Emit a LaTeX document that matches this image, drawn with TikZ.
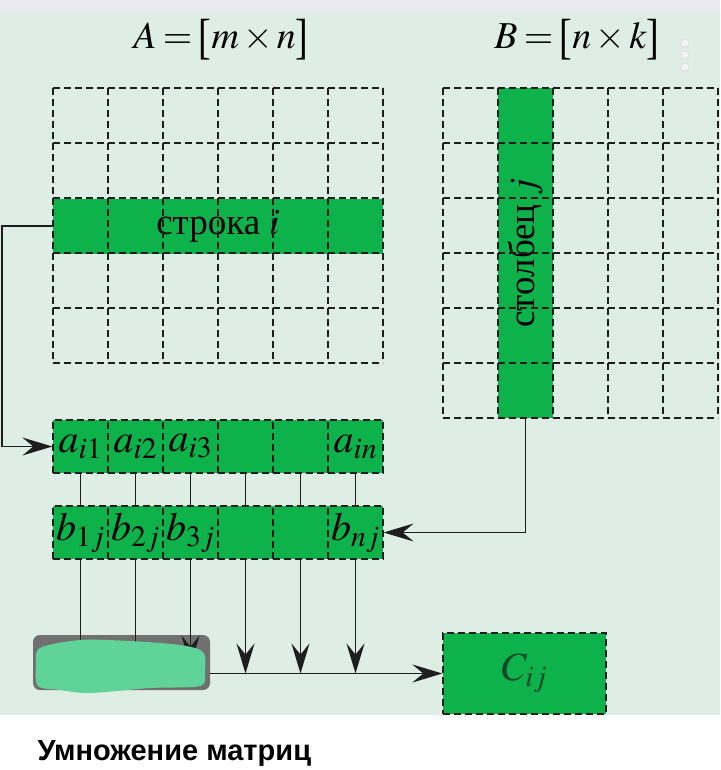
\documentclass[tikz,border=0pt]{standalone}
\usepackage{mathptmx}
\usepackage{fontspec}
\setmainfont{Liberation Serif}
\newfontfamily\captionfont{Liberation Sans}
\usetikzlibrary{arrows.meta, positioning, calc}
\usepackage{xcolor}
\definecolor{cellgreen}{RGB}{14,178,74}
\definecolor{bggreen}{RGB}{222,238,228}
\definecolor{bgtop}{RGB}{232,234,240}
\definecolor{sumgray}{RGB}{112,112,112}
\definecolor{blobgreen}{RGB}{96,212,152}
\definecolor{cijtext}{RGB}{20,72,42}
\definecolor{linegray}{RGB}{30,30,30}
% grands crochets pour les titres
\newcommand{\tallbrack}[1]{\raisebox{-5pt}{\scalebox{1}[1.3]{#1}}}

\begin{document}
\begin{tikzpicture}[x=1pt, y=-1pt,
    griddash/.style={draw=linegray, line width=1.3pt, dash pattern=on 7pt off 4pt},
    cellbox/.style={fill=cellgreen, draw=linegray, line width=1.3pt, dash pattern=on 7pt off 4pt,
        minimum width=55pt, minimum height=53pt, inner sep=0pt, font=\fontsize{40}{42}\selectfont},
    wire/.style={draw=linegray, line width=1.4pt},
    arr/.style={wire, -{Stealth[length=30pt, width=18pt, inset=11pt]}}]
    \useasboundingbox (0,0) rectangle (720,770);

    % --- Fond ---
    \fill[bgtop] (0,0) rectangle (720,12);
    \fill[bggreen] (0,12) rectangle (720,715);
    \fill[white] (0,715) rectangle (720,770);
    \foreach \y in {43,55,67}
        \draw[gray!25, fill=gray!8, line width=0.8pt] (685,\y) circle (4pt);

    % --- Titres ---
    \node[font=\fontsize{38}{40}\selectfont] (titleA) at (221,40)
        {$A\mkern3mu{=}\mkern3mu\mathopen{\tallbrack{[}}m\mkern2mu{\times}\mkern2mu n\mathclose{\tallbrack{]}}$};
    \node[font=\fontsize{38}{40}\selectfont] (titleB) at (577,40)
        {$B\mkern3mu{=}\mkern3mu\mathopen{\tallbrack{[}}n\mkern2mu{\times}\mkern2mu k\mathclose{\tallbrack{]}}$};

    % --- Matrice A (ligne i) ---
    \node[fill=cellgreen, minimum width=330pt, minimum height=55pt, inner sep=0pt,
        font=\fontsize{37}{39}\selectfont] (rowi) at (218,226) {строка $i$};
    \foreach \x in {53,108,...,383}
        \draw[griddash] (\x,88) -- (\x,363);
    \foreach \y in {88,143,...,363}
        \draw[griddash] (53,\y) -- (383,\y);

    % --- Matrice B (colonne j) ---
    \node[fill=cellgreen, minimum width=55pt, minimum height=330pt, inner sep=0pt,
        font=\fontsize{37}{39}\selectfont] (colj) at (525.5,253) {\rotatebox{90}{столбец $j$}};
    \foreach \x in {443,498,...,718}
        \draw[griddash] (\x,88) -- (\x,418);
    \foreach \y in {88,143,...,418}
        \draw[griddash] (443,\y) -- (718,\y);

    % --- Elements a et b ---
    \foreach \i/\t in {1/{a_{i1}},2/{a_{i2}},3/{a_{i3}},4/{},5/{},6/{a_{in}}}
        \node[cellbox] (a\i) at ({25.5+55*\i},446.5) {\ensuremath{\t}};
    \foreach \i/\t in {1/{b_{1j}},2/{b_{2j}},3/{b_{3j}},4/{},5/{},6/{b_{nj}}}
        \node[cellbox] (b\i) at ({25.5+55*\i},532.5) {\ensuremath{\t}};

    \draw[arr] (rowi.west) -- ++(-51,0) |- (a1.west);
    \draw[arr] (colj.south) |- (b6.east);
    \foreach \i in {1,...,6}
        \draw[wire] (a\i.south) -- (b\i.north);

    % --- Somme et resultat ---
    \node[fill=sumgray, rounded corners=7pt, minimum width=177pt, minimum height=55pt] (sum) at (121.5,662.5) {};
    \node[cellbox, minimum width=163pt, minimum height=81pt, text=cijtext,
        font=\fontsize{40}{42}\selectfont] (cij) at (524.5,673.5) {$C_{ij}$};

    \foreach \i in {1,2}
        \draw[wire] (b\i.south) -- ++(0,100);
    \draw[arr] (b3.south) -- ++(0,106);
    \foreach \i in {4,5,6}
        \draw[arr] (b\i.south) -- (b\i.south |- cij.west);
    \draw[arr] (sum.east |- cij.west) -- (cij.west);

    % tache qui masque la boite
    \fill[blobgreen] plot[smooth cycle] coordinates {(40,648) (80,640) (130,641) (180,645) (203,652)
        (205,672) (200,686) (150,688) (90,693) (60,690) (38,686) (36,665)};

    % --- Legende ---
    \node[anchor=base west, font=\captionfont\bfseries\fontsize{29}{32}\selectfont] (caption) at (34,760) {Умножение матриц};
\end{tikzpicture}
\end{document}
